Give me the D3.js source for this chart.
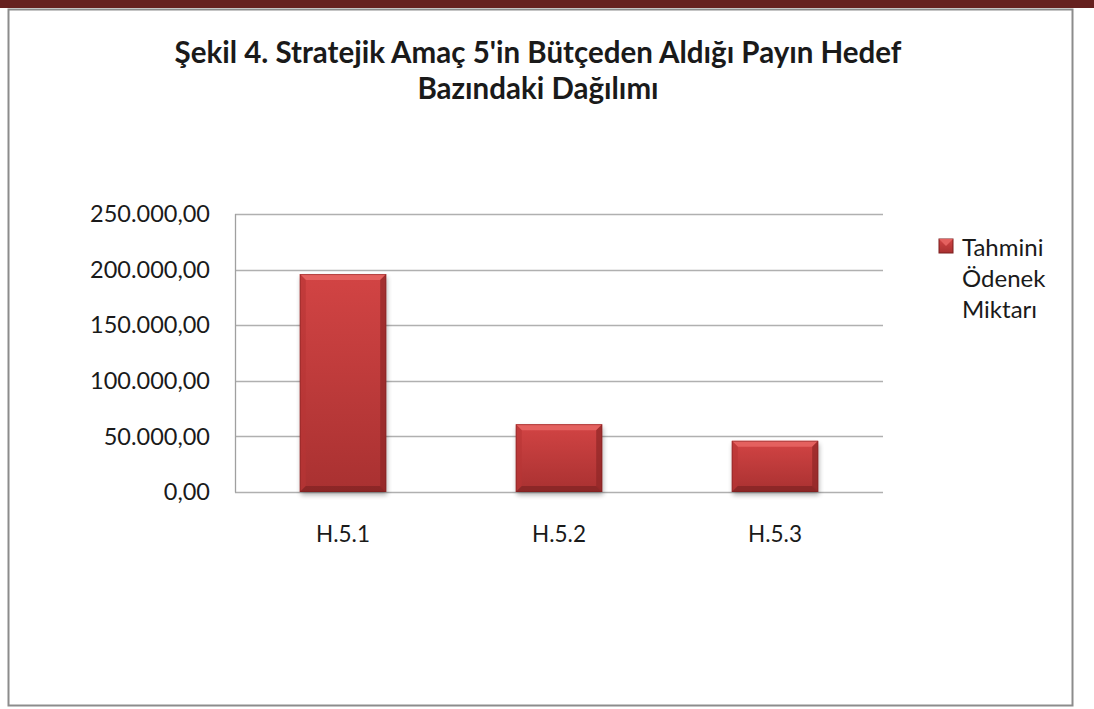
<!DOCTYPE html>
<html lang="tr">
<head>
    <meta charset="UTF-8">
    <title>Şekil 4</title>
    <script src="https://d3js.org/d3.v7.min.js"></script>
    <style>
        body { margin: 0; background: #fff; }
        svg { display: block; }
        text { font-family: Lato, "Open Sans", sans-serif; fill: #1a1a1a; }
    </style>
</head>
<body>
<svg width="1094" height="709"></svg>
<script>
    // chart data
    const categories = ["H.5.1", "H.5.2", "H.5.3"];
    const values = [196000, 61000, 46000];
    const yTicks = [0, 50000, 100000, 150000, 200000, 250000];
    const titleLines = ["Şekil 4. Stratejik Amaç 5'in Bütçeden Aldığı Payın Hedef", "Bazındaki Dağılımı"];
    const legendLines = ["Tahmini", "Ödenek", "Miktarı"];

    const svg = d3.select("svg");
    const W = 1094, H = 709;
    const plot = { left: 235, right: 883, top: 214, bottom: 492 };

    const tr = d3.formatLocale({ decimal: ",", thousands: ".", grouping: [3], currency: ["", ""] });
    const fmt = tr.format(",.2f");

    // page decoration: maroon band and chart frame
    svg.append("rect").attr("x", 0).attr("y", 0).attr("width", W).attr("height", 8).attr("fill", "#66211f");
    svg.append("rect").attr("x", 8.5).attr("y", 9.5).attr("width", 1064).attr("height", 696)
        .attr("fill", "#fff").attr("stroke", "#8c8c8c").attr("stroke-width", 2);

    const defs = svg.append("defs");
    const body = defs.append("linearGradient").attr("id", "barBody").attr("x1", 0).attr("y1", 0).attr("x2", 0).attr("y2", 1);
    body.append("stop").attr("offset", "0%").attr("stop-color", "#d24444");
    body.append("stop").attr("offset", "100%").attr("stop-color", "#a93131");
    const shadow = defs.append("filter").attr("id", "shadow").attr("x", "-20%").attr("y", "-20%").attr("width", "140%").attr("height", "140%");
    shadow.append("feGaussianBlur").attr("stdDeviation", 2.5);

    // scales
    const x = d3.scaleBand().domain(categories).range([plot.left, plot.right]).paddingInner(0.6).paddingOuter(0.3);
    const y = d3.scaleLinear().domain([0, 250000]).range([plot.bottom, plot.top]);

    // gridlines
    svg.append("g").selectAll("line").data(yTicks).enter().append("line")
        .attr("x1", plot.left).attr("x2", plot.right)
        .attr("y1", d => Math.round(y(d)) + 0.5).attr("y2", d => Math.round(y(d)) + 0.5)
        .attr("stroke", "#b0b0b0").attr("stroke-width", 1.3);
    svg.append("line").attr("x1", plot.left + 0.5).attr("x2", plot.left + 0.5)
        .attr("y1", plot.top).attr("y2", plot.bottom + 0.5)
        .attr("stroke", "#a0a0a0").attr("stroke-width", 1.3);

    // y tick labels
    svg.append("g").selectAll("text").data(yTicks).enter().append("text")
        .attr("x", 210).attr("y", d => y(d)).attr("dy", "0.35em")
        .attr("text-anchor", "end").attr("font-size", 23.5)
        .text(d => fmt(d));

    // x labels
    svg.append("g").selectAll("text").data(categories).enter().append("text")
        .attr("x", d => x(d) + x.bandwidth() / 2).attr("y", 542)
        .attr("text-anchor", "middle").attr("font-size", 22.5)
        .text(d => d);

    // bars with bevel
    const b = 6;
    const bars = svg.append("g").selectAll("g").data(categories).enter().append("g");
    bars.each(function(c, i) {
        const g = d3.select(this);
        const x0 = x(c), x1 = x(c) + x.bandwidth(), y0 = y(values[i]), y1 = y(0);
        g.append("rect").attr("x", x0 + 1).attr("y", y0 + 3).attr("width", x1 - x0).attr("height", y1 - y0)
            .attr("fill", "#000").attr("opacity", 0.3).attr("filter", "url(#shadow)");
        g.append("rect").attr("x", x0).attr("y", y0).attr("width", x1 - x0).attr("height", y1 - y0)
            .attr("fill", "url(#barBody)");
        g.append("polygon").attr("points", [[x0, y0], [x1, y0], [x1 - b, y0 + b], [x0 + b, y0 + b]].join(" "))
            .attr("fill", "#e4615f");
        g.append("polygon").attr("points", [[x1, y0], [x1, y1], [x1 - b, y1 - b], [x1 - b, y0 + b]].join(" "))
            .attr("fill", "#8e2727").attr("opacity", 0.7);
        g.append("polygon").attr("points", [[x0, y0], [x0 + b, y0 + b], [x0 + b, y1 - b], [x0, y1]].join(" "))
            .attr("fill", "#b83636").attr("opacity", 0.6);
        g.append("polygon").attr("points", [[x0, y1], [x0 + b, y1 - b], [x1 - b, y1 - b], [x1, y1]].join(" "))
            .attr("fill", "#7f2222").attr("opacity", 0.7);
        g.append("rect").attr("x", x0 + 0.5).attr("y", y0 + 0.5).attr("width", x1 - x0 - 1).attr("height", y1 - y0 - 1)
            .attr("fill", "none").attr("stroke", "#7a1f1f").attr("stroke-opacity", 0.45);
    });

    // title
    svg.append("g").selectAll("text").data(titleLines).enter().append("text")
        .attr("x", 538).attr("y", (d, i) => 63 + i * 36)
        .attr("text-anchor", "middle").attr("font-size", 29.5).attr("font-weight", "bold")
        .attr("fill", "#000")
        .text(d => d);

    // legend
    const lg = svg.append("g");
    lg.append("rect").attr("x", 939).attr("y", 239).attr("width", 14).attr("height", 14).attr("fill", "url(#barBody)")
        .attr("stroke", "#7a1f1f").attr("stroke-width", 1);
    lg.append("polygon").attr("points", "939,239 953,239 946,246").attr("fill", "#e4615f");
    lg.selectAll("text").data(legendLines).enter().append("text")
        .attr("x", 962).attr("y", (d, i) => 256 + i * 31)
        .attr("font-size", 24)
        .text(d => d);
</script>
</body>
</html>
